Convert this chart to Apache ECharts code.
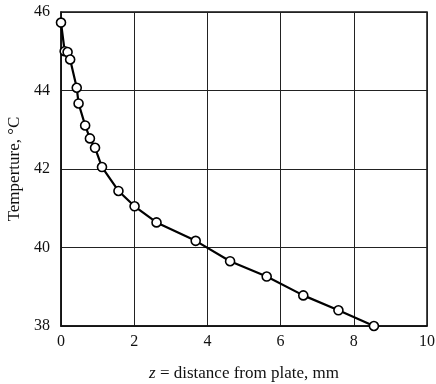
<!DOCTYPE html>
<html>
<head>
<meta charset="utf-8">
<script src="https://cdn.jsdelivr.net/npm/echarts@6/dist/echarts.min.js"></script>
<style>
  html, body { margin: 0; padding: 0; background: #fff; }
  #chart { width: 436px; height: 384px; }
</style>
</head>
<body>
<div id="chart"></div>
<script>
// distance from plate (mm) and measured temperature (°C)
const distance = [0.0, 0.10, 0.18, 0.25, 0.43, 0.48, 0.66, 0.79, 0.93, 1.12, 1.57, 2.01, 2.61, 3.68, 4.62, 5.62, 6.62, 7.58, 8.55];
const temperature = [45.73, 45.0, 44.98, 44.79, 44.07, 43.67, 43.11, 42.78, 42.54, 42.05, 41.44, 41.05, 40.64, 40.17, 39.65, 39.26, 38.78, 38.40, 38.0];
const xTicks = [0, 2, 4, 6, 8, 10];
const yTicks = [38, 40, 42, 44, 46];

const font = 'Liberation Serif';
const chart = echarts.init(document.getElementById('chart'));

const option = {
  backgroundColor: '#fff',
  animation: false,
  grid: {
    left: 61,
    right: 9,
    top: 12,
    bottom: 58,
    outerBoundsMode: 'none',
    containLabel: false,
    show: true,
    borderColor: '#111',
    borderWidth: 1.5
  },
  xAxis: {
    type: 'value',
    min: xTicks[0],
    max: xTicks[xTicks.length - 1],
    interval: 2,
    name: '{i|z} = distance from plate, mm',
    nameLocation: 'middle',
    nameGap: 39,
    nameTextStyle: {
      fontFamily: font,
      fontSize: 17,
      color: '#111',
      rich: { i: { fontStyle: 'italic', fontFamily: font, fontSize: 17, color: '#111' } }
    },
    axisLine: { show: true, lineStyle: { color: '#111', width: 1.5 } },
    axisTick: { show: false },
    axisLabel: { fontFamily: font, fontSize: 16, color: '#111', margin: 8 },
    splitLine: { show: true, lineStyle: { color: '#222', width: 1 } }
  },
  yAxis: {
    type: 'value',
    min: yTicks[0],
    max: yTicks[yTicks.length - 1],
    interval: 2,
    name: 'Temperture, °C',
    nameLocation: 'middle',
    nameGap: 37,
    nameTextStyle: { fontFamily: font, fontSize: 17, color: '#111' },
    axisLine: { show: true, lineStyle: { color: '#111', width: 1.5 } },
    axisTick: { show: false },
    axisLabel: { fontFamily: font, fontSize: 16, color: '#111', margin: 11 },
    splitLine: { show: true, lineStyle: { color: '#222', width: 1 } }
  },
  series: [{
    type: 'line',
    data: distance.map((d, i) => [d, temperature[i]]),
    symbol: 'circle',
    symbolSize: 9,
    showAllSymbol: true,
    lineStyle: { color: '#000', width: 2.2 },
    itemStyle: { color: '#fff', borderColor: '#000', borderWidth: 1.6 },
    z: 5
  }]
};

chart.setOption(option);
</script>
</body>
</html>
